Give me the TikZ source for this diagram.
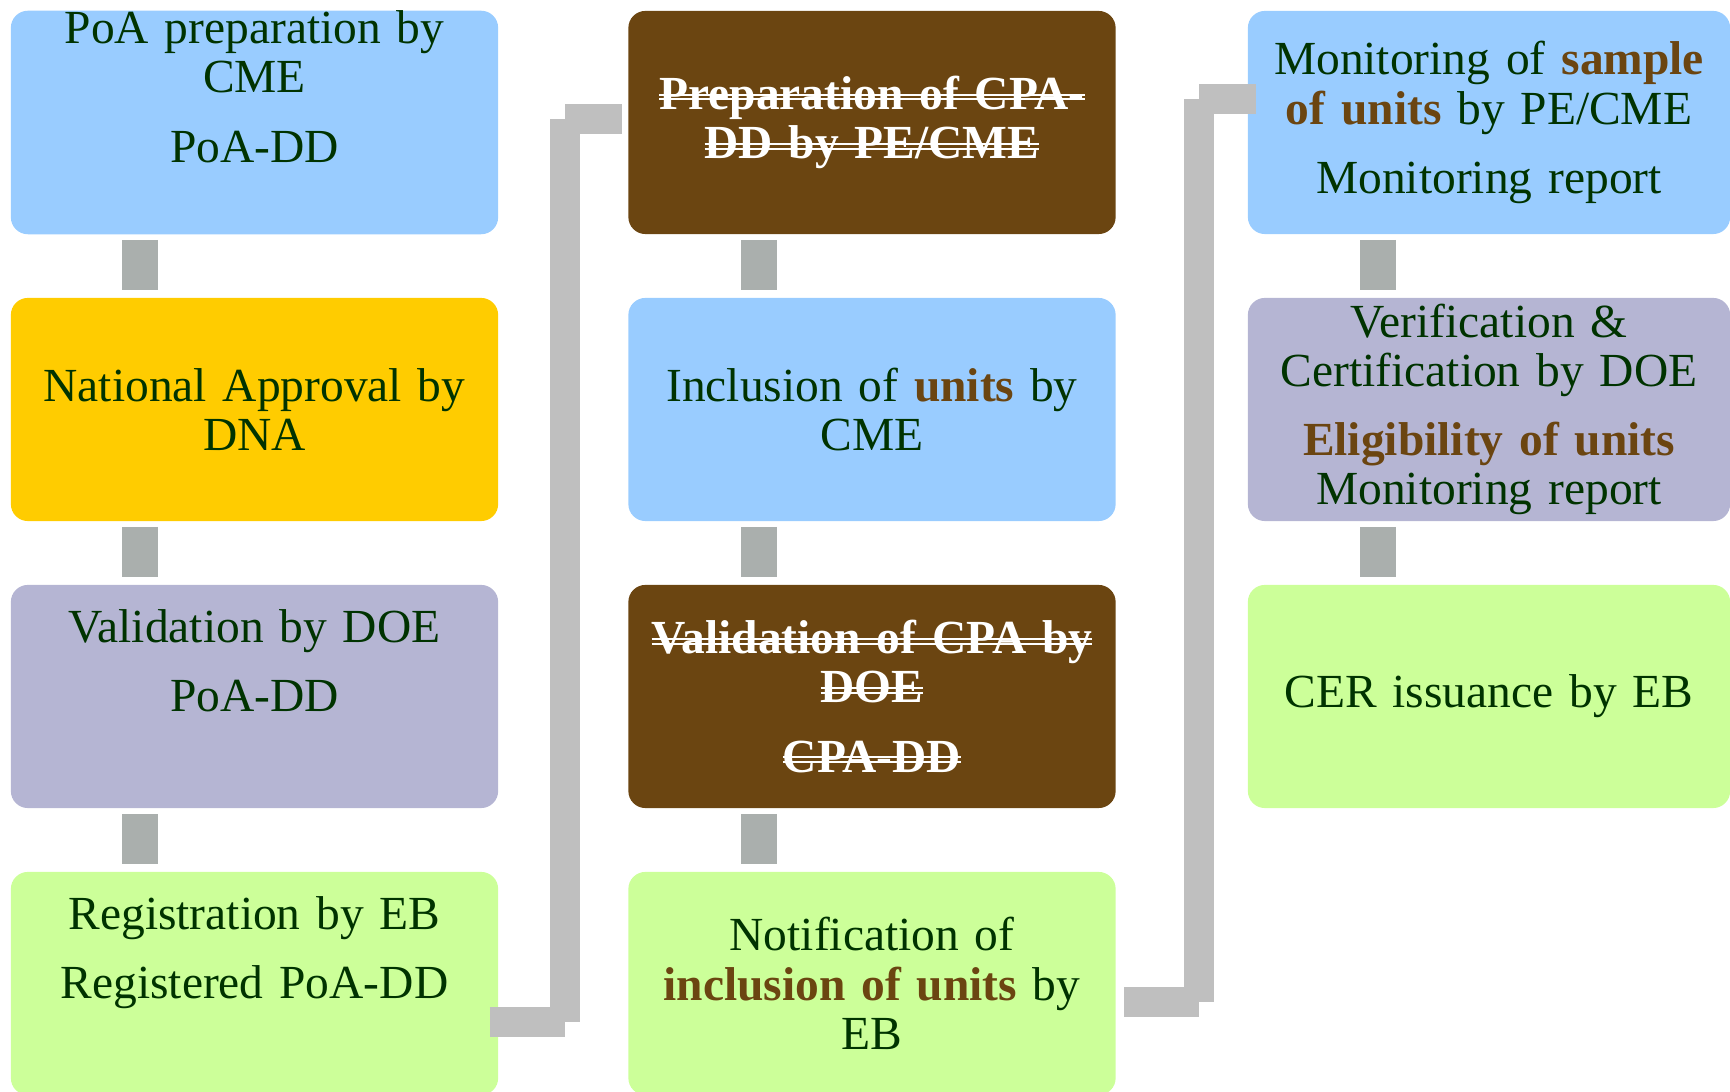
\documentclass[tikz,border=0pt]{standalone}
\usepackage{fontspec}
\setmainfont{Liberation Serif}
\usepackage{tikz}

\definecolor{poablue}{HTML}{99CCFF}
\definecolor{dnagold}{HTML}{FFCC00}
\definecolor{doelilac}{HTML}{B5B5D3}
\definecolor{ebgreen}{HTML}{CCFF99}
\definecolor{cpabrown}{HTML}{6B4511}
\definecolor{txtgreen}{HTML}{003300}
\definecolor{stubgray}{HTML}{AAAFAD}
\definecolor{elbowgray}{HTML}{BFBFBF}

\newsavebox{\strikebox}
\newcommand{\hilite}[1]{\textbf{\color{cpabrown}#1}}
\newcommand{\dstrike}[1]{\leavevmode\sbox{\strikebox}{#1}%
  \rlap{\rule[0.19em]{\wd\strikebox}{0.6pt}}\rlap{\rule[0.29em]{\wd\strikebox}{0.6pt}}\usebox{\strikebox}}
\newcommand{\pgap}{\\[5.7pt]}
\newcommand{\tailgap}{\\[2.3pt]\strut}

\tikzset{
 stage/.style={rounded corners=0.17cm, minimum width=4.87cm, minimum height=2.23cm,
   text width=4.7cm, align=center, inner sep=0pt, text=txtgreen,
   font=\fontsize{13.5}{14}\selectfont},
 struck/.style={stage, fill=cpabrown, text=white, font=\fontsize{13.5}{14}\selectfont\bfseries},
 stub/.style={line width=0.36cm, stubgray},
 elbow/.style={line width=0.3cm, elbowgray}
}

\begin{document}
\begin{tikzpicture}[x=0.01cm,y=-0.01cm]
\useasboundingbox (0,0) rectangle (1730,1092);

% PoA column
\node[stage, fill=poablue] (poa) at (254.5,122.5) {PoA preparation by\\CME\pgap PoA-DD\tailgap};
\node[stage, fill=dnagold] (dna) at (254.5,409.5) {National Approval by\\DNA};
\node[stage, fill=doelilac] (val) at (254.5,696.5) {Validation by DOE\pgap PoA-DD\tailgap};
\node[stage, fill=ebgreen] (reg) at (254.5,983.5) {Registration by EB\pgap Registered PoA-DD\tailgap};

% CPA column
\node[struck] (prep) at (872,122.5) {\dstrike{Preparation of CPA-}\\\dstrike{DD by PE/CME}};
\node[stage, fill=poablue] (incl) at (872,409.5) {Inclusion of \hilite{units} by\\CME};
\node[struck] (cpaval) at (872,696.5) {\dstrike{Validation of CPA by}\\\dstrike{DOE}\pgap\dstrike{CPA-DD}};
\node[stage, fill=ebgreen] (note) at (872,983.5) {Notification of\\\hilite{inclusion of units} by\\EB};

% issuance column
\node[stage, fill=poablue, minimum width=4.82cm] (mon) at (1489,122.5) {Monitoring of \hilite{sample}\\\hilite{of units} by PE/CME\pgap Monitoring report};
\node[stage, fill=doelilac, minimum width=4.82cm] (ver) at (1489,409.5) {Verification \&\\Certification by DOE\pgap\hilite{Eligibility of units}\\Monitoring report};
\node[stage, fill=ebgreen, minimum width=4.82cm] (cer) at (1489,696.5) {CER issuance by EB};

% short links
\draw[stub] ([xshift=-1.145cm,yshift=-0.05cm]poa.south) -- ([xshift=-1.145cm,yshift=0.07cm]dna.north);
\draw[stub] ([xshift=-1.145cm,yshift=-0.05cm]dna.south) -- ([xshift=-1.145cm,yshift=0.07cm]val.north);
\draw[stub] ([xshift=-1.145cm,yshift=-0.05cm]val.south) -- ([xshift=-1.145cm,yshift=0.07cm]reg.north);
\draw[stub] ([xshift=-1.13cm,yshift=-0.05cm]prep.south) -- ([xshift=-1.13cm,yshift=0.07cm]incl.north);
\draw[stub] ([xshift=-1.13cm,yshift=-0.05cm]incl.south) -- ([xshift=-1.13cm,yshift=0.07cm]cpaval.north);
\draw[stub] ([xshift=-1.13cm,yshift=-0.05cm]cpaval.south) -- ([xshift=-1.13cm,yshift=0.07cm]note.north);
\draw[stub] ([xshift=-1.11cm,yshift=-0.05cm]mon.south) -- ([xshift=-1.11cm,yshift=0.07cm]ver.north);
\draw[stub] ([xshift=-1.11cm,yshift=-0.05cm]ver.south) -- ([xshift=-1.11cm,yshift=0.07cm]cer.north);

% column to column
\coordinate (k1) at (565,1022);
\coordinate (k2) at (565,119);
\coordinate (k3) at (1199,1002);
\coordinate (k4) at (1199,99);
\draw[elbow] ([xshift=-0.09cm]reg.east |- k1) -- (k1) (k1) -- (k2) (k2) -- ([xshift=-0.06cm]prep.west |- k2);
\draw[elbow] ([xshift=0.08cm]note.east |- k3) -- (k3) (k3) -- (k4) (k4) -- ([xshift=0.09cm]mon.west |- k4);
\end{tikzpicture}
\end{document}
